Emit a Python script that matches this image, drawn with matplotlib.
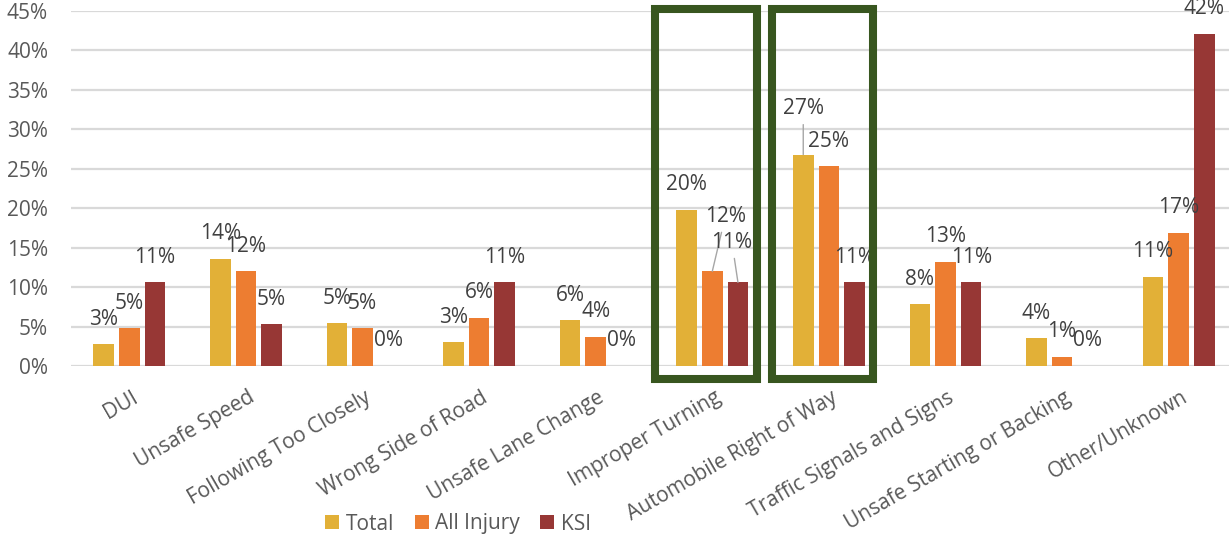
import matplotlib.pyplot as plt
from matplotlib.patches import Rectangle
from matplotlib.transforms import ScaledTranslation
import numpy as np

plt.rcParams['font.family'] = ['Open Sans', 'DejaVu Sans']

categories = ['DUI', 'Unsafe Speed', 'Following Too Closely', 'Wrong Side of Road',
              'Unsafe Lane Change', 'Improper Turning', 'Automobile Right of Way',
              'Traffic Signals and Signs', 'Unsafe Starting or Backing', 'Other/Unknown']
series = ['Total', 'All Injury', 'KSI']
total = [2.75, 13.6, 5.45, 3.0, 5.8, 19.8, 26.8, 7.8, 3.5, 11.3]
all_injury = [4.8, 12.0, 4.8, 6.1, 3.7, 12.0, 25.3, 13.2, 1.2, 16.9]
ksi = [10.6, 5.3, 0.0, 10.6, 0.0, 10.6, 10.6, 10.6, 0.0, 42.1]
highlight = [5, 6]  # boxed categories

colors = ['#E2B037', '#ED7D31', '#973735']
text_col = '#404040'
tick_col = '#595959'
fs = 15

# label offsets (px) for labels moved by hand, with leader lines
moved = {(5, 1): (13, 55), (5, 2): (-6, 40), (6, 0): (0, 46)}

fig = plt.figure(figsize=(12.29, 5.41), dpi=100)
ax = fig.add_axes([71 / 1229, 175 / 541, 1158 / 1229, 355 / 541])

x = np.arange(len(categories))
w = 0.176
step = 0.22
for k, vals in enumerate([total, all_injury, ksi]):
    xs = x + (k - 1) * step
    ax.bar(xs, np.array(vals) / 100, width=w, color=colors[k], label=series[k], zorder=3)
    for i, v in enumerate(vals):
        dx, dy = moved.get((i, k), (0, 25))
        kw = {}
        if (i, k) in moved:
            kw['arrowprops'] = dict(arrowstyle='-', color='#A6A6A6', lw=1, shrinkA=2, shrinkB=0)
        ax.annotate(f'{v:.0f}%', (xs[i], v / 100), xytext=(dx * 0.72, dy * 0.72),
                    textcoords='offset points', ha='center', va='center',
                    fontsize=fs, color=text_col, zorder=4, **kw)

ax.set_xlim(-0.5, -0.5 + 1158 / 116.6)
ax.set_ylim(0, 0.45)
ax.set_yticks(np.arange(0, 0.46, 0.05))
ax.set_yticklabels([f'{t * 100:.0f}%' for t in np.arange(0, 0.46, 0.05)])
ax.tick_params(axis='y', length=0, labelsize=fs, labelcolor=tick_col, pad=16.5)
ax.set_xticks([])
ax.grid(axis='y', color='#D9D9D9', lw=1.6, zorder=0)
for s in ax.spines.values():
    s.set_visible(False)

for i, name in enumerate(categories):
    tr = ax.get_xaxis_transform() + ScaledTranslation(2 / 100, -21 / 100, fig.dpi_scale_trans)
    ax.text(i, 0, name, transform=tr, rotation=30, rotation_mode='anchor',
            ha='right', va='top', fontsize=fs, color=tick_col)

# green boxes around highlighted categories
for i in highlight:
    ax.add_patch(Rectangle((i - 0.49, -0.0165), 0.87, 0.469, fill=False,
                           ec='#38561F', lw=5.8, clip_on=False, zorder=5))

fig.legend(loc='center', bbox_to_anchor=(458 / 1229, 1 - 524 / 541), ncol=3, frameon=False,
           fontsize=fs, labelcolor=tick_col, handlelength=0.67, handleheight=0.67,
           handletextpad=0.3, columnspacing=1.0)

fig.savefig('out.png', dpi=100)
